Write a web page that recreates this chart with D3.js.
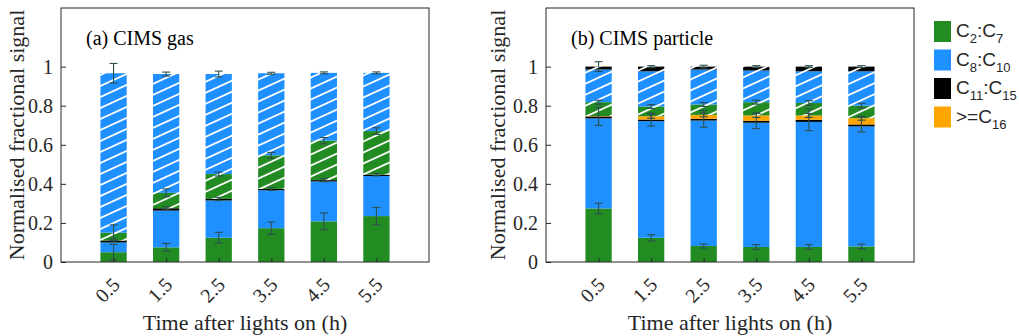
<!DOCTYPE html>
<html><head><meta charset="utf-8">
<script src="https://cdn.jsdelivr.net/npm/d3@7"></script>
<style>body{margin:0;background:#fff} svg{display:block}</style>
</head><body><svg id="c" width="1019" height="336"></svg>
<script>
// ---------- data ----------
const categories = ["0.5","1.5","2.5","3.5","4.5","5.5"];
const yTicks = [0, 0.2, 0.4, 0.6, 0.8, 1];
const segKeys = ["g","b","k","o","gh","bh","kh","oh"];
const segColors = ["#228B22","#1E90FF","#000000","#FFA500","#228B22","#1E90FF","#000000","#FFA500"];
const segHatched = [false,false,false,false,true,true,true,true];

// (a) CIMS gas : segment heights
const gasC2C7     = [0.050, 0.075, 0.124, 0.173, 0.208, 0.235];
const gasC8C10    = [0.050, 0.188, 0.191, 0.194, 0.204, 0.205];
const gasC11C15   = [0.010, 0.012, 0.008, 0.007, 0.007, 0.007];
const gasC16      = [0, 0, 0, 0, 0, 0];
const gasC2C7h    = [0.040, 0.079, 0.127, 0.172, 0.202, 0.223];
const gasC8C10h   = [0.816, 0.608, 0.512, 0.420, 0.347, 0.298];
const gasC11C15h  = [0, 0, 0, 0, 0, 0];
const gasC16h     = [0, 0, 0, 0, 0, 0];
// error half-widths at the top of each segment
const gasErrC2C7   = [0.040, 0.020, 0.028, 0.032, 0.043, 0.044];
const gasErrC8C10  = [0, 0, 0, 0, 0, 0];
const gasErrC11C15 = [0.008, 0.008, 0.008, 0.007, 0.008, 0.006];
const gasErrC16    = [0, 0, 0, 0, 0, 0];
const gasErrC2C7h  = [0.040, 0.020, 0.010, 0.015, 0.016, 0.017];
const gasErrC8C10h = [0.050, 0.010, 0.015, 0.005, 0.005, 0.005];
const gasErrC11C15h= [0, 0, 0, 0, 0, 0];
const gasErrC16h   = [0, 0, 0, 0, 0, 0];

// (b) CIMS particle : segment heights
const parC2C7     = [0.274, 0.124, 0.082, 0.077, 0.077, 0.080];
const parC8C10    = [0.461, 0.597, 0.642, 0.636, 0.640, 0.614];
const parC11C15   = [0.010, 0.008, 0.009, 0.010, 0.011, 0.010];
const parC16      = [0.002, 0.017, 0.020, 0.027, 0.022, 0.032];
const parC2C7h    = [0.071, 0.050, 0.053, 0.068, 0.064, 0.064];
const parC8C10h   = [0.167, 0.180, 0.179, 0.162, 0.162, 0.176];
const parC11C15h  = [0.015, 0.024, 0.015, 0.020, 0.024, 0.024];
const parC16h     = [0, 0, 0, 0, 0, 0];
const parErrC2C7   = [0.027, 0.016, 0.010, 0.012, 0.012, 0.012];
const parErrC8C10  = [0, 0, 0, 0, 0, 0];
const parErrC11C15 = [0.046, 0.033, 0.043, 0.040, 0.056, 0.038];
const parErrC16    = [0, 0.010, 0.010, 0.010, 0.010, 0.010];
const parErrC2C7h  = [0.010, 0.010, 0.010, 0.010, 0.012, 0.012];
const parErrC8C10h = [0, 0, 0, 0, 0, 0];
const parErrC11C15h= [0.025, 0.005, 0.007, 0.005, 0.005, 0.005];
const parErrC16h   = [0, 0, 0, 0, 0, 0];

const panelTitles = ["(a) CIMS gas", "(b) CIMS particle"];
const xLabel = "Time after lights on (h)";
const yLabel = "Normalised fractional signal";
const legendLabels = [["C","2",":C","7"],["C","8",":C","10"],["C","11",":C","15"],[">=C","16"]];
const legendColors = ["#228B22","#1E90FF","#000000","#FFA500"];

// ---------- build ----------
const svg = d3.select("#c");
const defs = svg.append("defs");
const TW = 24, TH = 11;
segColors.forEach((c, i) => {
  const p = defs.append("pattern").attr("id", "h" + i)
    .attr("patternUnits", "userSpaceOnUse").attr("width", TW).attr("height", TH);
  p.append("rect").attr("width", TW).attr("height", TH).attr("fill", c);
  [0, TH, 2 * TH].forEach(cc => {
    p.append("line").attr("x1", -4).attr("y1", cc + 4 * TH / TW).attr("x2", TW + 4).attr("y2", cc - (TW + 4) * TH / TW)
      .attr("stroke", "#fff").attr("stroke-width", 1.8);
  });
});

function rowsFrom(arrs) {
  return categories.map((c, i) => {
    const r = {cat: c, idx: i + 1};
    segKeys.forEach((k, j) => r[k] = arrs[j][i]);
    return r;
  });
}

const panels = [
  {left: 61, vals: [gasC2C7,gasC8C10,gasC11C15,gasC16,gasC2C7h,gasC8C10h,gasC11C15h,gasC16h],
   errs: [gasErrC2C7,gasErrC8C10,gasErrC11C15,gasErrC16,gasErrC2C7h,gasErrC8C10h,gasErrC11C15h,gasErrC16h], ylx: 16},
  {left: 546, vals: [parC2C7,parC8C10,parC11C15,parC16,parC2C7h,parC8C10h,parC11C15h,parC16h],
   errs: [parErrC2C7,parErrC8C10,parErrC11C15,parErrC16,parErrC2C7h,parErrC8C10h,parErrC11C15h,parErrC16h], ylx: 497.5}
];
const W = 368, plotTop = 8, plotBottom = 262;
const y = d3.scaleLinear().domain([0, 1.3]).range([plotBottom, plotTop]);
const axisColor = "#262626";
const SERIF = "Liberation Serif";
const SANS = "Liberation Sans";

panels.forEach((P, pi) => {
  const x = d3.scaleLinear().domain([0, 7]).range([P.left, P.left + W]);
  const bw = x(0.5) - x(0);
  const rows = rowsFrom(P.vals);
  const stack = d3.stack().keys(segKeys)(rows);
  const g = svg.append("g");
  stack.forEach((layer, j) => {
    g.selectAll(null).data(layer).join("rect")
      .attr("x", d => x(d.data.idx) - bw / 2)
      .attr("width", bw)
      .attr("y", d => y(d[1]))
      .attr("height", d => Math.max(0, y(d[0]) - y(d[1])))
      .attr("fill", segHatched[j] ? `url(#h${j})` : segColors[j]);
  });
  // error bars
  const eg = svg.append("g").attr("stroke", "#2F4F4F").attr("stroke-width", 1.1).attr("fill", "none");
  stack.forEach((layer, j) => {
    layer.forEach((d, i) => {
      const e = P.errs[j][i];
      if (!e) return;
      const cx = x(d.data.idx), v = d[1];
      eg.append("line").attr("x1", cx).attr("x2", cx).attr("y1", y(v - e)).attr("y2", y(v + e));
      [v - e, v + e].forEach(t => eg.append("line").attr("x1", cx - 4).attr("x2", cx + 4).attr("y1", y(t)).attr("y2", y(t)));
    });
  });
  // axes
  const yAxis = d3.axisLeft(y).tickValues(yTicks).tickSize(-5).tickPadding(8).tickFormat(d3.format("~g"));
  const ya = svg.append("g").attr("transform", `translate(${P.left},0)`).call(yAxis)
    .attr("font-family", SERIF).attr("font-size", 20);
  ya.select(".domain").remove();
  ya.selectAll("line").attr("stroke", axisColor);
  ya.selectAll("text").attr("fill", axisColor);
  const xAxis = d3.axisBottom(x).tickValues(categories.map((c, i) => i + 1)).tickSize(-4).tickFormat((d, i) => categories[i]);
  const xa = svg.append("g").attr("transform", `translate(0,${plotBottom})`).call(xAxis)
    .attr("font-family", SERIF).attr("font-size", 20);
  xa.select(".domain").remove();
  xa.selectAll("line").attr("stroke", axisColor);
  xa.selectAll("text")
    .attr("fill", axisColor)
    .attr("text-anchor", "end").attr("dy", null).attr("y", null)
    .attr("transform", "translate(7,24) rotate(-45)");
  // box
  svg.append("rect").attr("x", P.left).attr("y", plotTop).attr("width", W).attr("height", plotBottom - plotTop)
    .attr("fill", "none").attr("stroke", axisColor).attr("stroke-width", 1);
  // title
  svg.append("text").attr("x", P.left + 25).attr("y", 45).text(panelTitles[pi])
    .attr("font-family", SERIF).attr("font-size", 20).attr("fill", "#000");
  // labels
  svg.append("text").attr("x", P.left + W / 2).attr("y", 330).attr("text-anchor", "middle").text(xLabel)
    .attr("font-family", SERIF).attr("font-size", 22).attr("fill", axisColor);
  svg.append("text").attr("transform", `translate(${P.ylx},${(plotTop + plotBottom) / 2}) rotate(-90)`)
    .attr("text-anchor", "middle").attr("dy", "0.35em").text(yLabel)
    .attr("font-family", SERIF).attr("font-size", 22).attr("fill", axisColor);
});

// legend
const lg = svg.append("g");
legendLabels.forEach((parts, i) => {
  const y0 = 21 + i * 28.5;
  lg.append("rect").attr("x", 934).attr("y", y0).attr("width", 17).attr("height", 21).attr("fill", legendColors[i]);
  const t = lg.append("text").attr("x", 956).attr("y", y0 + 16)
    .attr("font-family", SANS).attr("fill", "#262626");
  parts.forEach((s, k) => {
    const sub = k % 2 === 1;
    t.append("tspan").text(s).attr("font-size", sub ? 13 : 19)
      .attr("dy", k === 0 ? 0 : (sub ? 6 : -6));
  });
});
</script></body></html>
